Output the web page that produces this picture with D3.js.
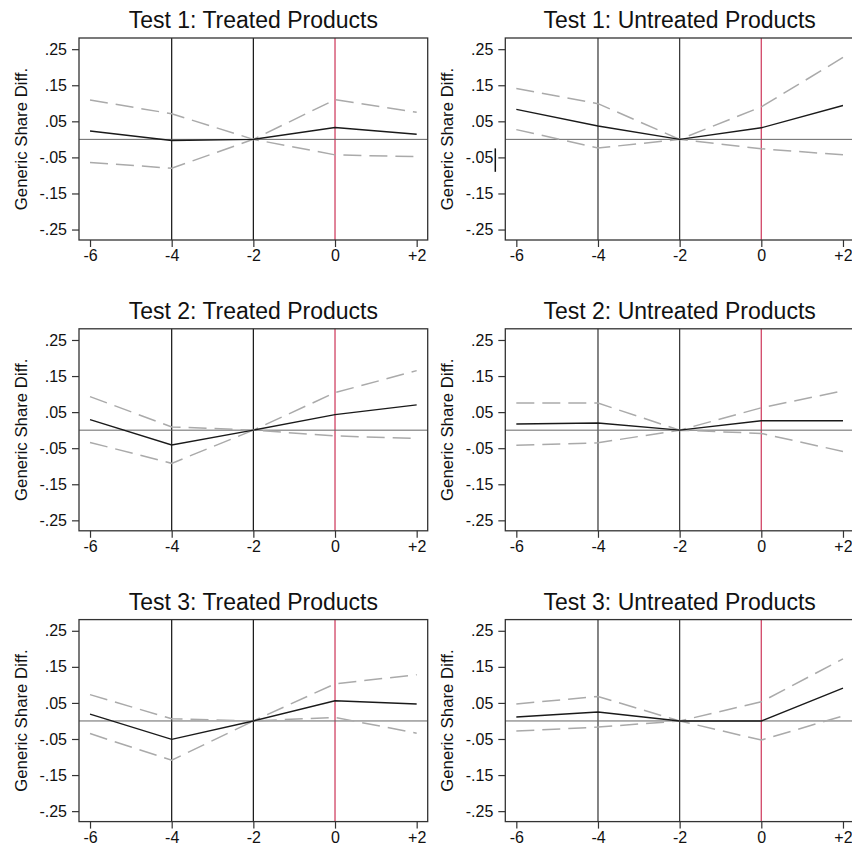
<!DOCTYPE html>
<html lang="en">
<head>
    <meta charset="UTF-8">
    <title>Generic Share Diff.</title>
    <script src="https://d3js.org/d3.v7.min.js"></script>
    <style>
        * { margin: 0; padding: 0; }
        body { background: #fff; }
        text { font-family: "Liberation Sans", Arial, sans-serif; fill: #111; }
    </style>
</head>
<body>
    <svg id="chart" width="852" height="848"></svg>
    <script>
        // event time (periods relative to treatment)
        var periods = [-6, -4, -2, 0, 2];
        var periodLabels = ['-6', '-4', '-2', '0', '+2'];
        var yTicks = [.25, .15, .05, -.05, -.15, -.25];
        var yTickLabels = ['.25', '.15', '.05', '-.05', '-.15', '-.25'];
        var titles = [
            'Test 1: Treated Products', 'Test 1: Untreated Products',
            'Test 2: Treated Products', 'Test 2: Untreated Products',
            'Test 3: Treated Products', 'Test 3: Untreated Products'
        ];
        // point estimates, one row per panel
        var estimate = [
            [0.023, -0.003, 0, 0.033, 0.014],
            [0.083, 0.037, 0, 0.032, 0.094],
            [0.029, -0.041, 0, 0.043, 0.070],
            [0.017, 0.020, 0, 0.026, 0.026],
            [0.019, -0.051, 0, 0.056, 0.047],
            [0.011, 0.025, 0, 0.000, 0.091]
        ];
        // upper and lower confidence bounds
        var upper = [
            [0.109, 0.071, 0, 0.110, 0.075],
            [0.141, 0.099, 0, 0.090, 0.227],
            [0.093, 0.009, 0, 0.104, 0.165],
            [0.075, 0.075, 0, 0.062, 0.109],
            [0.073, 0.006, 0, 0.103, 0.128],
            [0.047, 0.068, 0, 0.053, 0.172]
        ];
        var lower = [
            [-0.064, -0.080, 0, -0.043, -0.048],
            [0.027, -0.024, 0, -0.026, -0.043],
            [-0.034, -0.092, 0, -0.016, -0.023],
            [-0.042, -0.035, 0, -0.009, -0.059],
            [-0.035, -0.109, 0, 0.010, -0.034],
            [-0.028, -0.017, 0, -0.053, 0.014]
        ];
        var refLines = [-4, -2];
        var treatLine = 0;

        (function () {
            var svg = d3.select('#chart');
            var colW = 426.3, rowH = 290.8;
            var pL = 79, pR = 427.7, pT = 38, pB = 240;

            var x = d3.scaleLinear().domain([-6.27, 2.27]).range([pL, pR]);
            var y = d3.scaleLinear().domain([-0.279, 0.281]).range([pB, pT]);

            var line = d3.line()
                .x(function (d) { return x(d[0]); })
                .y(function (d) { return y(d[1]); });

            titles.forEach(function (title, i) {
                var col = i % 2, row = Math.floor(i / 2);
                var g = svg.append('g')
                    .attr('transform', 'translate(' + (col * colW) + ',' + (row * rowH) + ')');

                // title
                g.append('text')
                    .attr('x', (pL + pR) / 2)
                    .attr('y', pT - 10)
                    .attr('text-anchor', 'middle')
                    .style('font-size', '23px')
                    .text(title);

                // reference lines
                g.selectAll('.ref')
                    .data(refLines)
                    .enter()
                    .append('line')
                    .attr('class', 'ref')
                    .attr('x1', function (d) { return x(d); })
                    .attr('x2', function (d) { return x(d); })
                    .attr('y1', pT).attr('y2', pB)
                    .attr('stroke', col ? '#333' : '#111')
                    .attr('stroke-width', 1.2);

                g.append('line')
                    .attr('x1', x(treatLine)).attr('x2', x(treatLine))
                    .attr('y1', pT).attr('y2', pB)
                    .attr('stroke', '#d4506f')
                    .attr('stroke-width', 1.4);

                g.append('line')
                    .attr('x1', pL).attr('x2', pR)
                    .attr('y1', y(0)).attr('y2', y(0))
                    .attr('stroke', '#666')
                    .attr('stroke-width', 1);

                // confidence bounds
                [upper[i], lower[i]].forEach(function (band) {
                    g.append('path')
                        .datum(periods.map(function (p, j) { return [p, band[j]]; }))
                        .attr('d', line)
                        .attr('fill', 'none')
                        .attr('stroke', '#aaa')
                        .attr('stroke-width', 1.5)
                        .attr('stroke-dasharray', '18,8');
                });

                // point estimate
                g.append('path')
                    .datum(periods.map(function (p, j) { return [p, estimate[i][j]]; }))
                    .attr('d', line)
                    .attr('fill', 'none')
                    .attr('stroke', '#1a1a1a')
                    .attr('stroke-width', 1.4);

                // frame
                g.append('rect')
                    .attr('x', pL).attr('y', pT)
                    .attr('width', pR - pL).attr('height', pB - pT)
                    .attr('fill', 'none')
                    .attr('stroke', '#333')
                    .attr('stroke-width', 1.3);

                // axes
                var yAxis = d3.axisLeft(y)
                    .tickValues(yTicks)
                    .tickSize(7)
                    .tickPadding(5)
                    .tickFormat(function (d, j) { return yTickLabels[j]; });
                var ya = g.append('g').attr('transform', 'translate(' + pL + ',0)').call(yAxis);

                var xAxis = d3.axisBottom(x)
                    .tickValues(periods)
                    .tickSize(7)
                    .tickPadding(3)
                    .tickFormat(function (d, j) { return periodLabels[j]; });
                var xa = g.append('g').attr('transform', 'translate(0,' + pB + ')').call(xAxis);

                [ya, xa].forEach(function (a) {
                    a.select('.domain').remove();
                    a.selectAll('line').attr('stroke', '#333').attr('stroke-width', 1.2);
                    a.selectAll('text')
                        .style('font-size', '16px')
                        .style('font-family', '"Liberation Sans", Arial, sans-serif')
                        .attr('fill', '#111');
                });

                // y axis title
                g.append('text')
                    .attr('transform', 'translate(' + 27 + ',' + ((pT + pB) / 2) + ') rotate(-90)')
                    .attr('text-anchor', 'middle')
                    .style('font-size', '16.8px')
                    .text('Generic Share Diff.');

                // stray cursor mark seen in the source screenshot
                if (i === 1) {
                    g.append('line')
                        .attr('x1', 69).attr('x2', 69)
                        .attr('y1', y(-0.025)).attr('y2', y(-0.09))
                        .attr('stroke', '#111')
                        .attr('stroke-width', 1.5);
                }
            });
        })();
    </script>
</body>
</html>
